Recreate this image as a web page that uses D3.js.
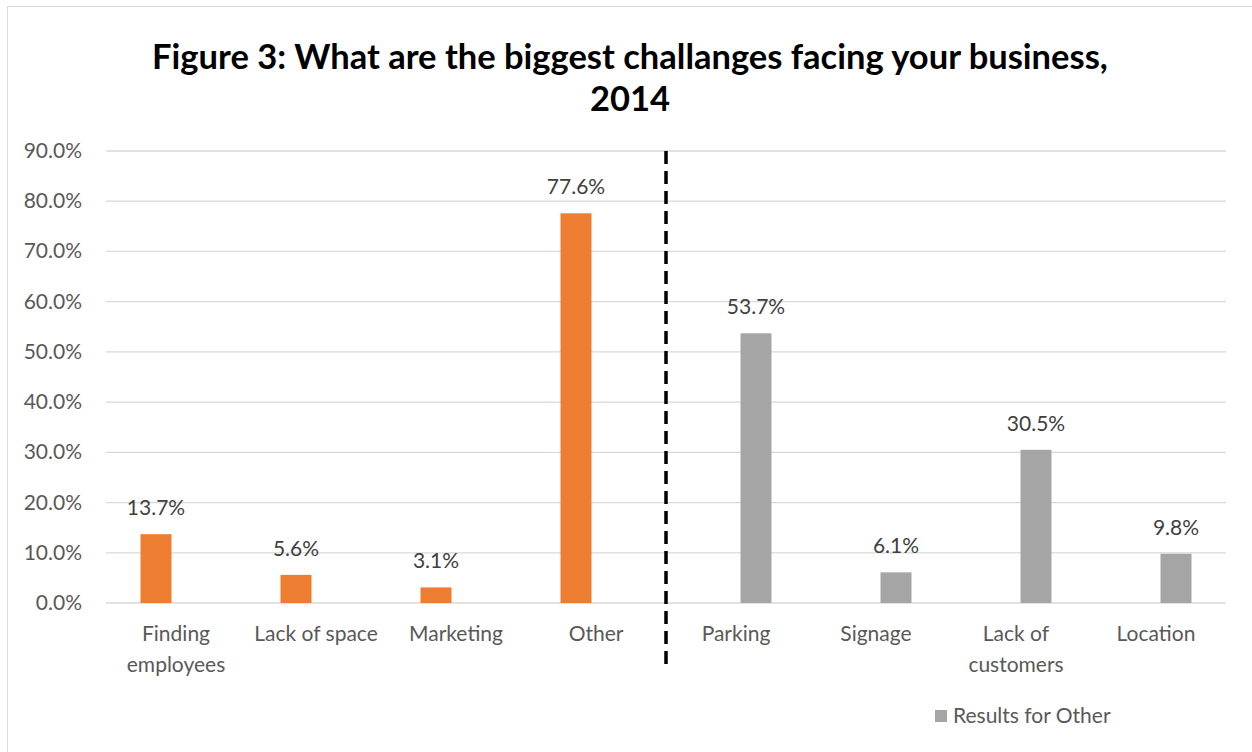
<!DOCTYPE html>
<html>
<head>
<meta charset="utf-8">
<script src="https://d3js.org/d3.v7.min.js"></script>
<style>
  body { margin: 0; background: #fff; }
  text { font-family: Lato, "Open Sans", sans-serif; }
</style>
</head>
<body>
<div id="chart"></div>
<script>
// data
var categories = ["Finding employees", "Lack of space", "Marketing", "Other", "Parking", "Signage", "Lack of customers", "Location"];
var mainValues = [13.7, 5.6, 3.1, 77.6, null, null, null, null];
var otherValues = [null, null, null, null, 53.7, 6.1, 30.5, 9.8];
var yTicks = [0, 10, 20, 30, 40, 50, 60, 70, 80, 90];
var seriesNames = ["Challenges", "Results for Other"];
var colors = ["#ED7D31", "#A5A5A5"];

var W = 1252, H = 752;
var svg = d3.select("#chart").append("svg").attr("width", W).attr("height", H);

// chart border
svg.append("rect").attr("x", 7.5).attr("y", 6.5).attr("width", W).attr("height", H)
  .attr("fill", "none").attr("stroke", "#d9d9d9").attr("stroke-width", 1);

// title
svg.append("text").attr("x", 630).attr("y", 69).attr("text-anchor", "middle")
  .style("font-size", "34.5px").style("font-weight", "bold").attr("fill", "#000")
  .text("Figure 3: What are the biggest challanges facing your business,");
svg.append("text").attr("x", 630).attr("y", 111).attr("text-anchor", "middle")
  .style("font-size", "34.5px").style("font-weight", "bold").attr("fill", "#000")
  .text("2014");

var plotL = 106, plotR = 1226, plotT = 151, plotB = 603;
var x = d3.scaleBand().domain(categories).range([plotL, plotR]);
var y = d3.scaleLinear().domain([0, 90]).range([plotB, plotT]);
var barW = 31, off = 20;

// gridlines
svg.selectAll(".grid").data(yTicks).enter().append("line")
  .attr("x1", plotL).attr("x2", plotR)
  .attr("y1", function(d) { return y(d); }).attr("y2", function(d) { return y(d); })
  .attr("stroke", "#d9d9d9").attr("stroke-width", 1.3);

// y axis labels
svg.selectAll(".ylab").data(yTicks).enter().append("text")
  .attr("x", 82).attr("y", function(d) { return y(d) + 7; })
  .attr("text-anchor", "end").attr("fill", "#595959").style("font-size", "21px")
  .text(function(d) { return d.toFixed(1) + "%"; });

function drawSeries(vals, color, dx) {
  var rows = categories.map(function(c, i) { return {c: c, v: vals[i]}; })
    .filter(function(d) { return d.v != null; });
  svg.selectAll(null).data(rows).enter().append("rect")
    .attr("x", function(d) { return x(d.c) + x.bandwidth() / 2 + dx - barW / 2; })
    .attr("y", function(d) { return y(d.v); })
    .attr("width", barW)
    .attr("height", function(d) { return y(0) - y(d.v); })
    .attr("fill", color);
  svg.selectAll(null).data(rows).enter().append("text")
    .attr("x", function(d) { return x(d.c) + x.bandwidth() / 2 + dx; })
    .attr("y", function(d) { return y(d.v) - 19; })
    .attr("text-anchor", "middle").attr("fill", "#404040").style("font-size", "21px")
    .text(function(d) { return d.v.toFixed(1) + "%"; });
}
drawSeries(mainValues, colors[0], -off);
drawSeries(otherValues, colors[1], off);

// category labels
var catLab = svg.selectAll(".cat").data(categories).enter().append("text")
  .attr("x", function(d) { return x(d) + x.bandwidth() / 2; })
  .attr("y", 641).attr("text-anchor", "middle").attr("fill", "#595959").style("font-size", "21px");
catLab.each(function(d) {
  var lines = d == "Finding employees" ? ["Finding", "employees"] :
              d == "Lack of customers" ? ["Lack of", "customers"] : [d];
  var t = d3.select(this);
  lines.forEach(function(l, i) {
    t.append("tspan").attr("x", x(d) + x.bandwidth() / 2).attr("dy", i == 0 ? 0 : 31).text(l);
  });
});

// divider
svg.append("line").attr("x1", x("Parking")).attr("x2", x("Parking"))
  .attr("y1", plotT).attr("y2", 670)
  .attr("stroke", "#000").attr("stroke-width", 3.5).attr("stroke-dasharray", "13,7");

// legend
svg.append("rect").attr("x", 935).attr("y", 710).attr("width", 12).attr("height", 12).attr("fill", colors[1]);
svg.append("text").attr("x", 953).attr("y", 723).attr("fill", "#595959").style("font-size", "21px")
  .text(seriesNames[1]);
</script>
</body>
</html>
